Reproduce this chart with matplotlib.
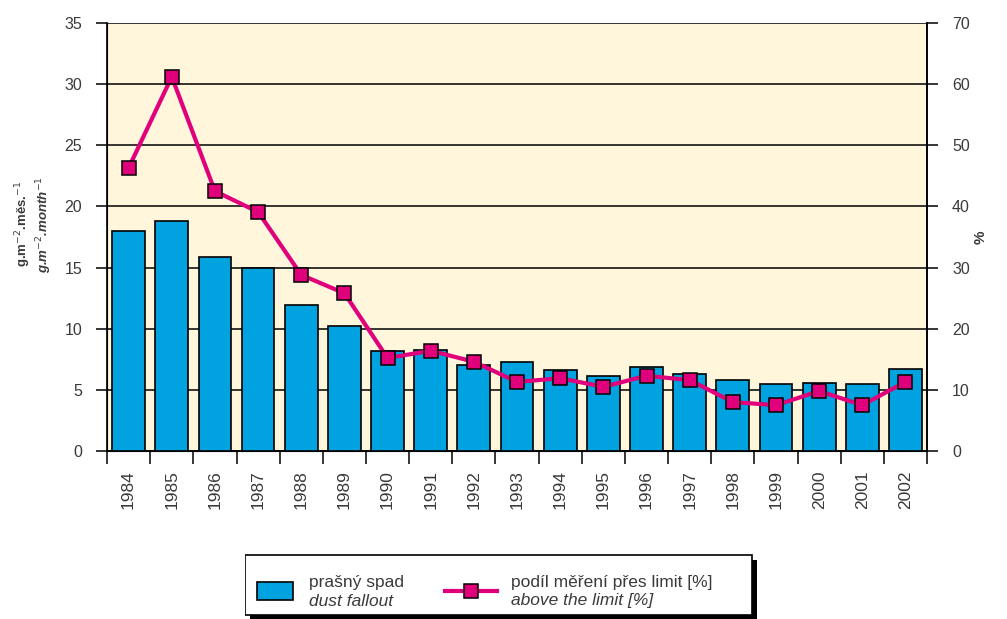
import matplotlib.pyplot as plt
from matplotlib.patches import Rectangle
from matplotlib.lines import Line2D

plt.rcParams['font.family'] = ['Liberation Sans', 'DejaVu Sans']

years = ['1984', '1985', '1986', '1987', '1988', '1989', '1990', '1991', '1992', '1993',
         '1994', '1995', '1996', '1997', '1998', '1999', '2000', '2001', '2002']
# prašný spad, g.m-2.měs.-1
dust = [18.0, 18.8, 15.9, 15.0, 11.9, 10.2, 8.2, 8.3, 7.0, 7.3,
        6.6, 6.1, 6.9, 6.3, 5.8, 5.5, 5.6, 5.5, 6.7]
# podíl měření přes limit, %
above = [46.3, 61.2, 42.5, 39.1, 28.8, 25.8, 15.2, 16.4, 14.6, 11.3,
         11.9, 10.5, 12.3, 11.6, 8.0, 7.5, 9.8, 7.5, 11.3]

bar_col = '#00A3E0'
line_col = '#E0007B'
bg_col = '#FFF6DC'
txt_col = '#3a3a3a'

fig = plt.figure(figsize=(10.07, 6.19), dpi=100)
ax = fig.add_axes([0.1063, 0.2714, 0.8143, 0.6914])
ax.set_facecolor(bg_col)

x = list(range(len(years)))
ax.bar(x, dust, width=0.76, color=bar_col, edgecolor='black', linewidth=1.2, zorder=3)

ax.set_xlim(-0.5, len(years) - 0.5)
ax.set_ylim(0, 35)
ax.set_yticks(range(0, 36, 5))
ax.yaxis.grid(True, color='black', linewidth=1.1, zorder=0)
ax.set_axisbelow(True)

ax.set_xticks(x)
ax.set_xticklabels(years, rotation=90, fontsize=12.5, color=txt_col)
ax.tick_params(axis='x', length=0, pad=14)
ax.set_xticks([i - 0.5 for i in range(len(years) + 1)], minor=True)
ax.tick_params(axis='x', which='minor', length=9, width=1.1, direction='out')
ax.tick_params(axis='y', length=8, width=1.1, labelsize=11.5, labelcolor=txt_col, pad=10)

ax.spines['top'].set_visible(False)
for s in ['left', 'right', 'bottom']:
    ax.spines[s].set_linewidth(1.2)

# popisek osy y: česky a anglicky kurzívou
ax.text(-0.102, 0.53, 'g.m$^{-2}$.měs.$^{-1}$', transform=ax.transAxes, rotation=90,
        ha='center', va='center', fontsize=9.5, fontweight='bold', color=txt_col)
ax.text(-0.077, 0.53, r'g.m$^{-2}$.month$^{-1}$', transform=ax.transAxes, rotation=90,
        ha='center', va='center', fontsize=9.5, fontweight='bold', style='italic',
        color=txt_col)

ax2 = ax.twinx()
ax2.set_ylim(0, 70)
ax2.set_yticks(range(0, 71, 10))
ax2.tick_params(axis='y', length=8, width=1.1, labelsize=11.5, labelcolor=txt_col, pad=10)
ax2.spines['top'].set_visible(False)
ax2.spines['right'].set_linewidth(1.2)
ax2.plot(x, above, color=line_col, linewidth=3, marker='s', markersize=10,
         markerfacecolor=line_col, markeredgecolor='black', markeredgewidth=1.1, zorder=5)
ax2.text(1.065, 0.5, '%', transform=ax2.transAxes, rotation=90, ha='center', va='center',
         fontsize=11, fontweight='bold', color=txt_col)

# legenda se stínem, kreslená v pixelech
lg = fig.add_axes([245 / 1007, 0.0, 512 / 1007, 68 / 619])
lg.set_xlim(0, 512)
lg.set_ylim(68, 0)
lg.axis('off')
lg.add_patch(Rectangle((5, 9), 507, 59, facecolor='black', edgecolor='none'))
lg.add_patch(Rectangle((0, 4), 507, 60, facecolor='white', edgecolor='black', linewidth=1.2))
lg.add_patch(Rectangle((12, 31), 36, 18, facecolor=bar_col, edgecolor='black', linewidth=1.2))
lg.text(64, 31, 'prašný spad', fontsize=12.5, color=txt_col, va='center')
lg.text(64, 50, 'dust fallout', fontsize=12.5, style='italic', color=txt_col, va='center')
lg.add_line(Line2D([200, 252], [40, 40], color=line_col, linewidth=3))
lg.add_line(Line2D([226], [40], color=line_col, marker='s', markersize=10,
                   markeredgecolor='black', markeredgewidth=1.1, linestyle='none'))
lg.text(266, 31, 'podíl měření přes limit [%]', fontsize=12.5, color=txt_col, va='center')
lg.text(266, 50, 'above the limit [%]', fontsize=12.5, style='italic', color=txt_col,
        va='center')

fig.savefig('out.png', dpi=100)
